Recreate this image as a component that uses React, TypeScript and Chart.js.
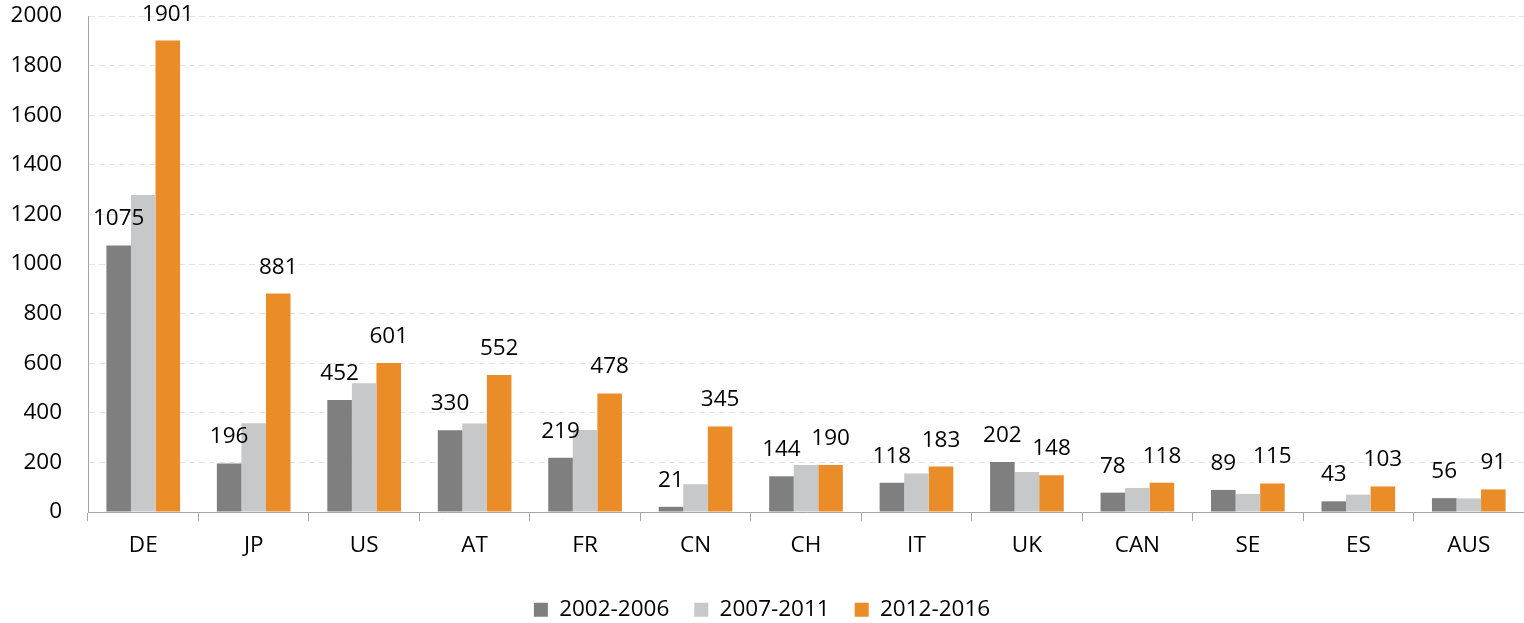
import React, { useEffect, useRef } from "react";
import { Chart, registerables } from "chart.js";

Chart.register(...registerables);

const categories = ["DE", "JP", "US", "AT", "FR", "CN", "CH", "IT", "UK", "CAN", "SE", "ES", "AUS"];
const series2002 = [1075, 196, 452, 330, 219, 21, 144, 118, 202, 78, 89, 43, 56];
const series2007 = [1278, 358, 519, 357, 331, 112, 190, 155, 161, 97, 73, 70, 55];
const series2012 = [1901, 881, 601, 552, 478, 345, 190, 183, 148, 118, 115, 103, 91];
const seriesNames = ["2002-2006", "2007-2011", "2012-2016"];
const yTicks = [0, 200, 400, 600, 800, 1000, 1200, 1400, 1600, 1800, 2000];

const FONT = "'Open Sans', 'Noto Sans', sans-serif";
const FS = 22.5;

const labelPlugin = {
  id: "barLabels",
  afterDatasetsDraw(chart: any) {
    const ctx = chart.ctx;
    ctx.save();
    ctx.font = `${FS}px ${FONT}`;
    ctx.fillStyle = "#000000";
    ctx.textAlign = "center";
    ctx.textBaseline = "alphabetic";
    [0, 2].forEach((di) => {
      const meta = chart.getDatasetMeta(di);
      const data = chart.data.datasets[di].data;
      meta.data.forEach((el: any, i: number) => {
        ctx.fillText(String(data[i]), el.x, el.y - 20);
      });
    });
    ctx.restore();
  },
};

const legendShift = {
  id: "legendShift",
  afterLayout(chart: any) {
    if (chart.legend) {
      chart.legend.top += 8;
      chart.legend.bottom += 8;
    }
  },
};

export default function App() {
  const canvasRef = useRef<HTMLCanvasElement | null>(null);

  useEffect(() => {
    document.body.style.margin = "0";
    const chart = new Chart(canvasRef.current as HTMLCanvasElement, {
      type: "bar",
      data: {
        labels: categories,
        datasets: [
          { label: seriesNames[0], data: series2002, backgroundColor: "#7f7f7f" },
          { label: seriesNames[1], data: series2007, backgroundColor: "#c7c8c9" },
          { label: seriesNames[2], data: series2012, backgroundColor: "#ea8c28" },
        ],
      },
      options: {
        animation: false,
        responsive: true,
        maintainAspectRatio: false,
        layout: { padding: { top: 16, right: 0, left: 0, bottom: 0 } },
        datasets: {
          bar: { categoryPercentage: 0.667, barPercentage: 1.0 },
        },
        plugins: {
          legend: {
            position: "bottom",
            labels: {
              font: { family: FONT, size: FS },
              color: "#000000",
              boxWidth: 14,
              boxHeight: 14,
              padding: 25,
            },
          },
          tooltip: { enabled: false },
        },
        scales: {
          x: {
            offset: true,
            grid: {
              display: true,
              drawOnChartArea: false,
              drawTicks: true,
              tickLength: 9,
              offset: true,
              color: "#a6a6a6",
            },
            border: { display: true, color: "#a6a6a6", width: 1 },
            ticks: {
              font: { family: FONT, size: FS },
              color: "#000000",
              padding: 11,
            },
            afterFit: (scale: any) => {
              scale.height = 53.5;
            },
          },
          y: {
            min: 0,
            max: 2000,
            afterBuildTicks: (scale: any) => {
              scale.ticks = yTicks.map((v) => ({ value: v }));
            },
            grid: {
              drawTicks: false,
              color: "#e3e3e3",
              lineWidth: 1,
            },
            border: { display: true, color: "#a6a6a6", width: 1, dash: [6, 4] },
            ticks: {
              font: { family: FONT, size: FS },
              color: "#000000",
              padding: 26,
              callback: (v: any) => String(v),
            },
            afterFit: (scale: any) => {
              scale.width = 88;
              scale.paddingTop = 0;
              scale.paddingBottom = 0;
            },
          },
        },
      },
      plugins: [labelPlugin, legendShift],
    });
    return () => chart.destroy();
  }, []);

  return (
    <div style={{ position: "fixed", left: 0, top: 0, width: 1524, height: 623 }}>
      <canvas ref={canvasRef} />
    </div>
  );
}
